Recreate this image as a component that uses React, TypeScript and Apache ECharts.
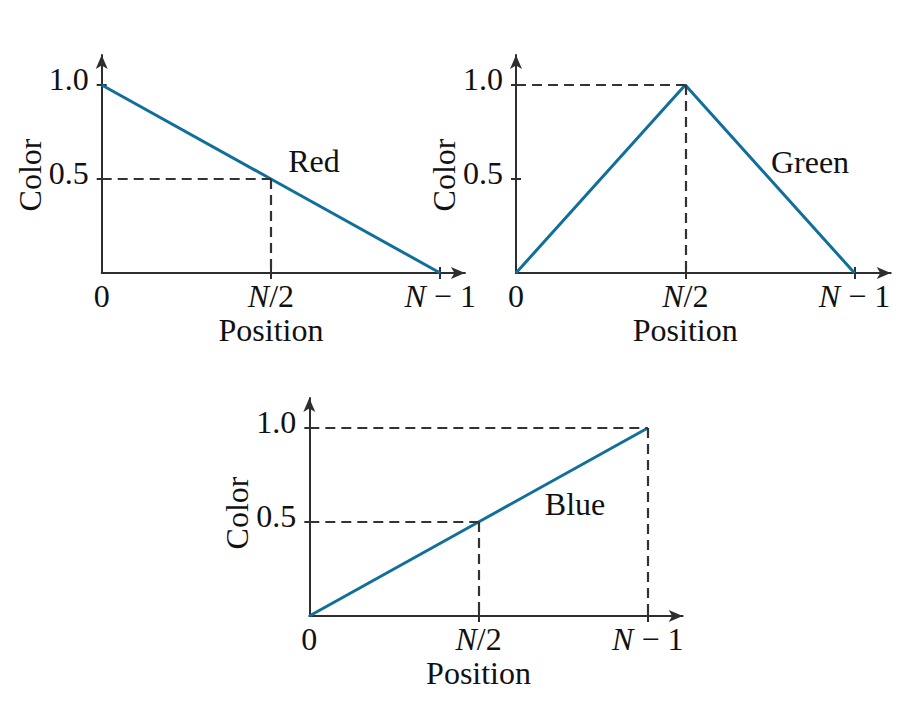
import React, { useEffect, useRef } from 'react';
import * as echarts from 'echarts';

// ---- data ----
const positions = [0, 0.5, 1]; // 0, N/2, N-1 (normalised)
const positionLabels = ['0', 'N/2', 'N − 1'];
const positionTicks = [0.5, 1];
const colorTicks = [0.5, 1.0];
const colorTickLabels = ['0.5', '1.0'];
const redValues = [1.0, 0.5, 0.0];
const greenValues = [0.0, 1.0, 0.0];
const blueValues = [0.0, 0.5, 1.0];
const panelNames = ['Red', 'Green', 'Blue'];
const guideIndices = [[1], [1], [1, 2]];
const xAxisName = 'Position';
const yAxisName = 'Color';

// ---- style / layout ----
const FONT = '"Liberation Serif", "Times New Roman", serif';
const TEXT = '#111111';
const AXIS = '#2e2e2e';
const DASH = '#333333';
const LINE = '#116f9b';
const FS = 32;
const UX = 338.5;
const UY = 188;
const panels = [
  { x0: 101.7, y0: 273, xMax: 1.073, yMax: 1.16, label: [314, 161], yPad: 22 },
  { x0: 516, y0: 273, xMax: 1.107, yMax: 1.16, label: [810, 162], yPad: 22 },
  { x0: 309.3, y0: 616, xMax: 1.103, yMax: 1.16, label: [575, 504], yPad: 12 },
];

function buildOption() {
  const allValues = [redValues, greenValues, blueValues];
  const axisLineStyle = { color: AXIS, width: 2 };
  const grid: any[] = [];
  const xAxis: any[] = [];
  const yAxis: any[] = [];
  const series: any[] = [];
  const graphic: any[] = [];

  const xLabel = (v: number) => {
    const k = positions.findIndex((p) => Math.abs(p - v) < 1e-6);
    return k < 0 ? '' : positionLabels[k].replace('N', '{i|N}');
  };
  const yLabel = (v: number) => {
    const k = colorTicks.findIndex((p) => Math.abs(p - v) < 1e-6);
    return k < 0 ? '' : colorTickLabels[k];
  };

  panels.forEach((p, i) => {
    grid.push({
      left: p.x0,
      top: p.y0 - p.yMax * UY,
      width: p.xMax * UX,
      height: p.yMax * UY,
      containLabel: false,
      outerBoundsMode: 'none',
    });
    const xPad = 2 * (p.xMax / 2 - positions[1]) * UX;
    xAxis.push({
      type: 'value',
      gridIndex: i,
      position: 'bottom',
      min: 0,
      max: p.xMax,
      axisLine: {
        show: true,
        onZero: false,
        symbol: ['none', 'arrow'],
        symbolSize: [9, 14],
        lineStyle: axisLineStyle,
      },
      axisTick: { show: true, inside: false, length: 6, customValues: positionTicks, lineStyle: axisLineStyle },
      axisLabel: {
        show: true,
        customValues: positions,
        formatter: xLabel,
        margin: 7,
        color: TEXT,
        fontFamily: FONT,
        fontSize: FS,
        rich: { i: { fontStyle: 'italic', fontFamily: FONT, fontSize: FS, color: TEXT } },
      },
      splitLine: { show: false },
      name: xAxisName,
      nameLocation: 'middle',
      nameGap: 41,
      nameMoveOverlap: false,
      nameTextStyle: { color: TEXT, fontFamily: FONT, fontSize: FS, padding: [0, xPad, 0, 0] },
    });
    xAxis.push({
      type: 'value',
      gridIndex: i,
      position: 'bottom',
      min: 0,
      max: p.xMax,
      axisLine: { show: false, onZero: false },
      axisTick: { show: true, inside: true, length: 6, customValues: positionTicks, lineStyle: axisLineStyle },
      axisLabel: { show: false },
      splitLine: { show: false },
    });
    yAxis.push({
      type: 'value',
      gridIndex: i,
      position: 'left',
      min: 0,
      max: p.yMax,
      axisLine: {
        show: true,
        onZero: false,
        symbol: ['none', 'arrow'],
        symbolSize: [9, 14],
        lineStyle: axisLineStyle,
      },
      axisTick: { show: true, inside: false, length: 5, customValues: colorTicks, lineStyle: axisLineStyle },
      axisLabel: {
        show: true,
        customValues: colorTicks,
        formatter: yLabel,
        margin: 13,
        verticalAlign: 'bottom',
        lineHeight: 13,
        color: TEXT,
        fontFamily: FONT,
        fontSize: FS,
      },
      splitLine: { show: false },
      name: yAxisName,
      nameLocation: 'middle',
      nameRotate: 90,
      nameGap: 56,
      nameMoveOverlap: false,
      nameTextStyle: { color: TEXT, fontFamily: FONT, fontSize: FS, padding: [0, p.yPad, 0, 0] },
    });
    yAxis.push({
      type: 'value',
      gridIndex: i,
      position: 'left',
      min: 0,
      max: p.yMax,
      axisLine: { show: false, onZero: false },
      axisTick: { show: true, inside: true, length: 5, customValues: colorTicks, lineStyle: axisLineStyle },
      axisLabel: { show: false },
      splitLine: { show: false },
    });

    const vals = allValues[i];
    const guides: any[] = [];
    guideIndices[i].forEach((k) => {
      guides.push([{ coord: [positions[0], vals[k]] }, { coord: [positions[k], vals[k]] }]);
      guides.push([{ coord: [positions[k], vals[k]] }, { coord: [positions[k], 0] }]);
    });
    series.push({
      type: 'line',
      name: panelNames[i],
      xAxisIndex: 2 * i,
      yAxisIndex: 2 * i,
      data: positions.map((x, k) => [x, vals[k]]),
      symbol: 'none',
      silent: true,
      z: 3,
      lineStyle: { color: LINE, width: 3 },
      itemStyle: { color: LINE },
      emphasis: { disabled: true },
      markLine: {
        silent: true,
        symbol: ['none', 'none'],
        label: { show: false },
        emphasis: { disabled: true },
        lineStyle: { color: DASH, type: [10, 6], width: 2.2 },
        data: guides,
      },
    });
    graphic.push({
      type: 'text',
      x: p.label[0],
      y: p.label[1],
      silent: true,
      style: {
        text: panelNames[i],
        fill: TEXT,
        fontFamily: FONT,
        fontSize: FS,
        align: 'center',
        verticalAlign: 'middle',
      },
    });
  });

  return {
    animation: false,
    backgroundColor: '#ffffff',
    grid,
    xAxis,
    yAxis,
    series,
    graphic,
  };
}

export default function App() {
  const ref = useRef<HTMLDivElement>(null);
  useEffect(() => {
    if (!ref.current) return;
    const chart = echarts.init(ref.current, null, { renderer: 'svg' });
    chart.setOption(buildOption() as any);
    return () => chart.dispose();
  }, []);
  return (
    <div
      ref={ref}
      style={{ position: 'absolute', left: 0, top: 0, width: 919, height: 720, background: '#fff' }}
    />
  );
}
